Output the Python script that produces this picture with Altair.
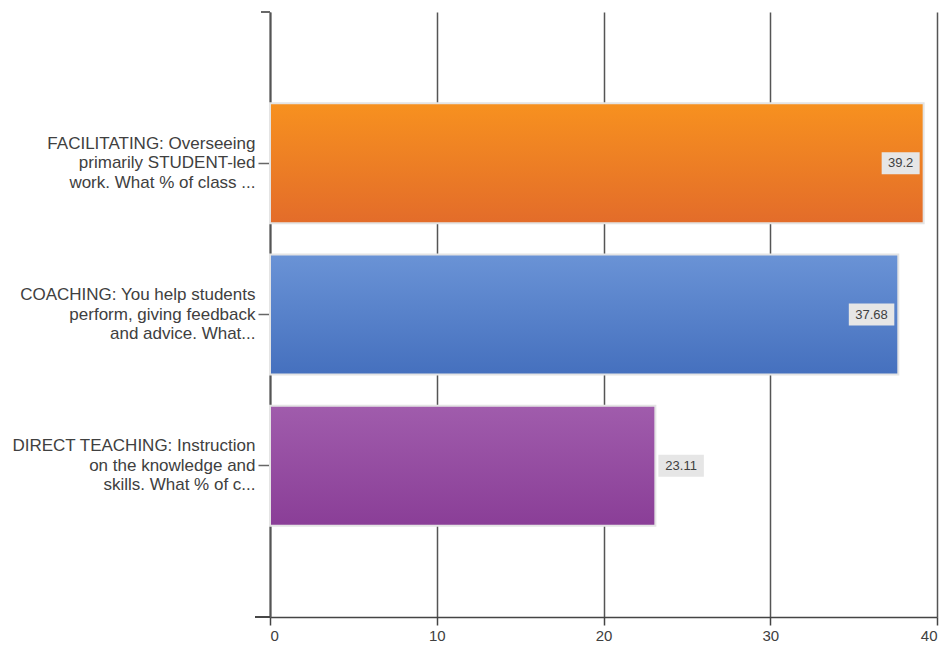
import altair as alt
import pandas as pd

categories = [
    "FACILITATING: Overseeing\nprimarily STUDENT-led\nwork. What % of class ...",
    "COACHING: You help students\nperform, giving feedback\nand advice. What...",
    "DIRECT TEACHING: Instruction\non the knowledge and\nskills. What % of c...",
]
values = [39.2, 37.68, 23.11]
value_labels = ["39.2", "37.68", "23.11"]
top_colors = ["#F7911F", "#6A93D6", "#A05CAC"]
bottom_colors = ["#E36C2A", "#4570BE", "#8A3E97"]
x_ticks = [0, 10, 20, 30, 40]

PW, PH = 667, 605
PX_PER_UNIT = PW / 40.0

df = pd.DataFrame({"cat": categories, "value": values, "label": value_labels})

y_enc = alt.Y(
    "cat:N",
    sort=categories,
    scale=alt.Scale(paddingInner=0, paddingOuter=0.5),
    axis=alt.Axis(
        title=None,
        labelExpr="split(datum.label, '\\n')",
        labelFont="Liberation Sans",
        labelFontSize=17,
        labelColor="#404040",
        labelLineHeight=19.5,
        labelOffset=-19.5,
        labelPadding=3,
        labelLimit=300,
        tickSize=12,
        tickColor="#666666",
        tickWidth=1.5,
        domainColor="#555555",
        domainWidth=2,
        grid=False,
    ),
)
x_scale = alt.Scale(domain=[0, 40], nice=False)
x_axis = alt.Axis(
    title=None,
    values=x_ticks,
    labelFont="Liberation Sans",
    labelFontSize=15,
    labelColor="#404040",
    labelPadding=3,
    tickSize=8,
    tickColor="#444444",
    tickWidth=1.5,
    domainColor="#444444",
    domainWidth=1.5,
    grid=True,
    gridColor="#555555",
    gridWidth=1.5,
)

layers = []
base = alt.Chart(df)
for i, c in enumerate(categories):
    grad = alt.Gradient(
        gradient="linear", x1=0, y1=0, x2=0, y2=1,
        stops=[alt.GradientStop(color=top_colors[i], offset=0),
               alt.GradientStop(color=bottom_colors[i], offset=1)],
    )
    bar = base.transform_filter(alt.datum.cat == c).mark_bar(
        size=120, color=grad, stroke="#e4e4e4", strokeWidth=2
    ).encode(
        x=alt.X("value:Q", scale=x_scale, axis=x_axis),
        y=y_enc,
    )
    layers.append(bar)

lab = base.transform_calculate(
    w=f"(8 + 7.5*length(datum.label))/{PX_PER_UNIT}",
).transform_calculate(
    bx2=f"datum.value > 30 ? datum.value - 4/{PX_PER_UNIT} : datum.value + 3/{PX_PER_UNIT} + datum.w",
).transform_calculate(
    bx="datum.bx2 - datum.w", tx="(datum.bx2 - datum.w/2)",
)
box = lab.mark_bar(size=22, color="#e6e6e6").encode(
    x=alt.X("bx:Q", scale=x_scale), x2="bx2:Q", y=y_enc
)
txt = lab.mark_text(font="Liberation Sans", fontSize=13, color="#404040", align="center", baseline="middle").encode(
    x=alt.X("tx:Q", scale=x_scale), y=y_enc, text="label:N"
)

left_ext = alt.Chart(df).mark_rule(color="#444444", strokeWidth=1.5).encode(
    x=alt.value(-15), x2=alt.value(0), y=alt.value(PH)
)
top_tick = alt.Chart(df).mark_rule(color="#666666", strokeWidth=1.5).encode(
    x=alt.value(-9), x2=alt.value(0), y=alt.value(0)
)

chart = alt.layer(*layers, box, txt, left_ext, top_tick).properties(
    width=PW, height=PH,
    background="white",
    autosize=alt.AutoSizeParams(type="none"),
    padding={"left": 270, "top": 12, "right": 12, "bottom": 29},
).configure_view(strokeWidth=0, stroke="transparent")

chart.save("out.html", embed_options={"renderer": "svg", "actions": False})
